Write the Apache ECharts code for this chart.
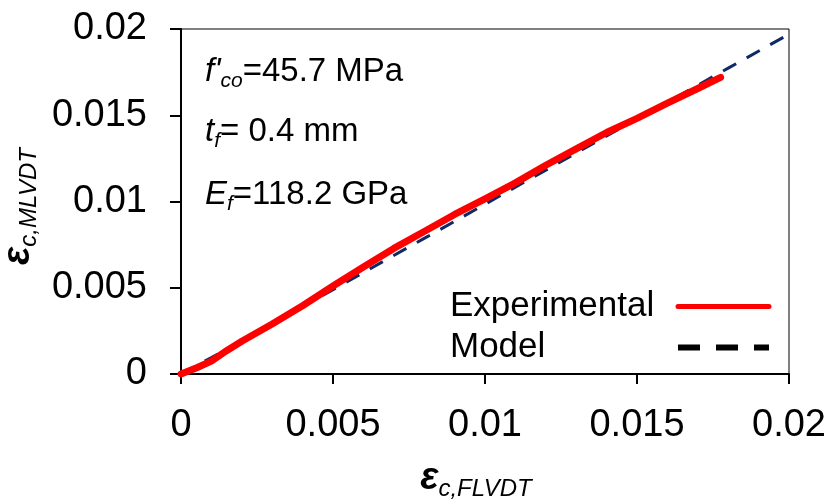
<!DOCTYPE html>
<html><head><meta charset="utf-8">
<script src="https://cdn.jsdelivr.net/npm/echarts@6/dist/echarts.min.js"></script>
<style>html,body{margin:0;padding:0;background:#fff}#c{width:834px;height:499px}</style>
</head><body><div id="c"></div>
<script>
// Experimental curve
const expX = [0, 0.0005, 0.001, 0.0015, 0.002, 0.003, 0.004, 0.005, 0.006, 0.007, 0.008, 0.009, 0.010, 0.011, 0.012, 0.013, 0.014, 0.015, 0.016, 0.017, 0.01775];
const expY = [0, 0.00035, 0.00075, 0.00135, 0.0019, 0.0029, 0.00396, 0.0051, 0.0062, 0.00728, 0.00826, 0.00925, 0.01015, 0.01108, 0.0121, 0.01305, 0.014, 0.01482, 0.0157, 0.01655, 0.0172];
// Model curve
const modelX = [0, 0.001, 0.002, 0.004, 0.006, 0.008, 0.010, 0.012, 0.014, 0.016, 0.018, 0.020];
const modelY = [0, 0.00095, 0.00194, 0.0039, 0.00588, 0.00786, 0.00984, 0.01182, 0.0138, 0.01576, 0.01773, 0.0197];
const seriesNames = ['Experimental', 'Model'];
const axisTicks = { min: 0, max: 0.02, interval: 0.005 };

const FF = '"Liberation Sans", Arial, sans-serif';
const zip = (a, b) => a.map((v, i) => [v, b[i]]);

const chart = echarts.init(document.getElementById('c'), null, { renderer: 'canvas' });

const nameRich = {
  e: { fontFamily: FF, fontStyle: 'italic', fontWeight: 'bold', fontSize: 38, color: '#000', lineHeight: 44, verticalAlign: 'middle' },
  s: { fontFamily: FF, fontStyle: 'italic', fontSize: 24, color: '#000', lineHeight: 26, verticalAlign: 'bottom' }
};
const annRich = {
  i: { fontFamily: FF, fontStyle: 'italic', fontSize: 33, color: '#000', lineHeight: 40, verticalAlign: 'middle' },
  n: { fontFamily: FF, fontSize: 33, color: '#000', lineHeight: 40, verticalAlign: 'middle' },
  s: { fontFamily: FF, fontStyle: 'italic', fontSize: 21, color: '#000', lineHeight: 22, verticalAlign: 'bottom' }
};

chart.setOption({
  animation: false,
  backgroundColor: '#fff',
  grid: { left: 181, right: 45, top: 29, bottom: 125, show: true, borderColor: '#000', borderWidth: 1,
    backgroundColor: 'transparent', containLabel: false, outerBoundsMode: 'none' },
  xAxis: {
    type: 'value', min: axisTicks.min, max: axisTicks.max, interval: axisTicks.interval,
    axisLine: { lineStyle: { color: '#000', width: 2 } },
    axisTick: { show: true, inside: false, length: 10, lineStyle: { color: '#000', width: 2 } },
    splitLine: { show: false },
    axisLabel: { color: '#000', fontFamily: FF, fontSize: 38, margin: 33 },
    name: '{e|ε}{s|c,FLVDT}', nameLocation: 'middle', nameGap: 83,
    nameTextStyle: { rich: nameRich, padding: [0, 18, 0, 0] }
  },
  yAxis: {
    type: 'value', min: axisTicks.min, max: axisTicks.max, interval: axisTicks.interval,
    axisLine: { lineStyle: { color: '#000', width: 2 } },
    axisTick: { show: true, inside: false, length: 11, lineStyle: { color: '#000', width: 2 } },
    splitLine: { show: false },
    axisLabel: { color: '#000', fontFamily: FF, fontSize: 38, margin: 34 },
    name: '{e|ε}{s|c,MLVDT}', nameLocation: 'middle', nameGap: 140,
    nameTextStyle: { rich: nameRich, padding: [0, 10, 0, 0] }
  },
  legend: {
    orient: 'vertical', left: 445, top: 284, align: 'right',
    itemWidth: 91, itemHeight: 14, itemGap: 6, padding: 5,
    selectedMode: false,
    formatter: n => '{n|' + n + '}',
    textStyle: { color: '#000', fontFamily: FF, fontSize: 35,
      rich: { n: { width: 223, align: 'left', fontFamily: FF, fontSize: 35, lineHeight: 34, color: '#000' } } },
    data: [
      { name: seriesNames[0], itemStyle: { opacity: 0 }, lineStyle: { color: '#ff0000', width: 5, type: 'solid' } },
      { name: seriesNames[1], itemStyle: { opacity: 0 }, lineStyle: { color: '#000000', width: 6, type: [22, 16] } }
    ]
  },
  graphic: [
    { type: 'text', left: 205, top: 55, style: { text: "{i|f'}{s|co}{n|=45.7 MPa}", rich: annRich } },
    { type: 'text', left: 205, top: 115, style: { text: "{i|t}{s|f}{n|= 0.4 mm}", rich: annRich } },
    { type: 'text', left: 205, top: 178, style: { text: "{i|E}{s|f}{n|=118.2 GPa}", rich: annRich } }
  ],
  series: [
    { name: seriesNames[1], type: 'line', data: zip(modelX, modelY), showSymbol: false, symbol: 'none',
      itemStyle: { color: '#0d2a66' },
      lineStyle: { color: '#0d2a66', width: 3, type: [15, 12] }, z: 2 },
    { name: seriesNames[0], type: 'line', data: zip(expX, expY), showSymbol: false, symbol: 'none',
      itemStyle: { color: '#ff0000' },
      lineStyle: { color: '#ff0000', width: 7, cap: 'round', join: 'round' }, z: 3 }
  ]
});
</script></body></html>
